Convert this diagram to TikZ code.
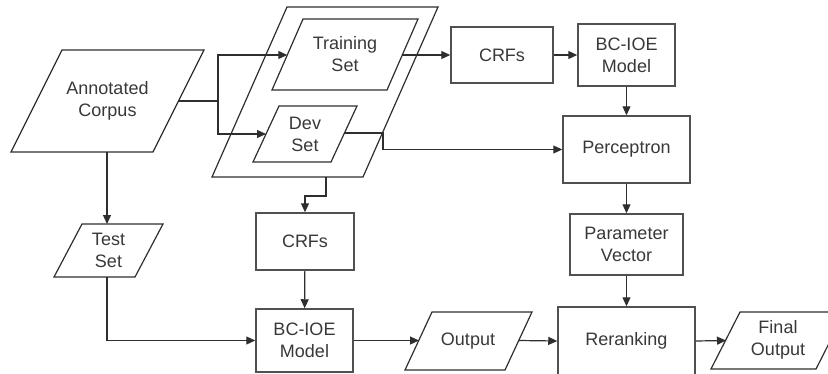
\documentclass[tikz,border=0pt]{standalone}
\usepackage{fontspec}
\setmainfont{Liberation Sans}
\usetikzlibrary{arrows.meta,calc}
\definecolor{lc}{HTML}{2E2E2E}
\definecolor{bc}{HTML}{505050}
\definecolor{tc}{HTML}{383838}
\begin{document}
\begin{tikzpicture}[x=1pt,y=-1pt,line join=miter,
  ln/.style={draw=lc,line width=1.2pt},
  arr/.style={ln,-{Triangle[length=9pt,width=8pt]}},
  pl/.style={draw=lc,line width=1.2pt},
  txt/.style={align=center,font=\fontsize{18}{22}\selectfont,text=tc,inner sep=0pt},
  boxn/.style={txt,draw=bc,line width=1.5pt,rectangle}]
\useasboundingbox (0,0) rectangle (828,373);
\clip (0,0) rectangle (828,373);
% parallelograms
\draw[pl] (62,50) -- (204,50) -- (153,152) -- (11,152) -- cycle;
\node[txt] (ac) at (107.5,101) {Annotated\\Corpus};
\coordinate (acR) at (178.5,101);
\coordinate (acB) at (107,152);
\draw[pl] (287,7) -- (438,7) -- (363,177) -- (212,177) -- cycle;
\coordinate (bigB) at (326,177);
\draw[pl] (303,19) -- (418,19) -- (387,90) -- (272,90) -- cycle;
\node[txt] (ts) at (345,54.5) {Training\\Set};
\coordinate (tsL) at (287.3,55);
\coordinate (tsR) at (402.3,55);
\draw[pl] (279,106) -- (357,106) -- (331,162) -- (253,162) -- cycle;
\node[txt] (ds) at (305,134) {Dev\\Set};
\coordinate (dsL) at (266,134);
\coordinate (dsR) at (344.5,133);
\draw[pl] (82,224) -- (163,224) -- (135,277) -- (54,277) -- cycle;
\node[txt] (test) at (108.5,250.5) {Test\\Set};
\coordinate (testT) at (107,224);
\coordinate (testB) at (107,277);
\draw[pl] (432,312) -- (532,312) -- (505,370) -- (405,370) -- cycle;
\node[txt] (out) at (468,341) {Output};
\coordinate (outL) at (419,340.5);
\coordinate (outR) at (519,340.5);
\draw[pl] (740,312) -- (845,312) -- (816,369) -- (711,369) -- cycle;
\node[txt] (fin) at (778,340) {Final\\Output};
\coordinate (finL) at (726,340.5);
% boxes
\node[boxn,minimum width=102pt,minimum height=56pt] (crfA) at (502,55) {CRFs};
\node[boxn,minimum width=97pt,minimum height=62pt] (bcA) at (626.5,55) {BC-IOE\\Model};
\node[boxn,minimum width=127pt,minimum height=67pt] (perc) at (626.5,149.5) {Perceptron};
\node[boxn,minimum width=113pt,minimum height=61pt] (pv) at (626.5,244.5) {Parameter\\Vector};
\node[boxn,minimum width=137pt,minimum height=68pt] (rr) at (626.5,341) {Reranking};
\node[boxn,minimum width=98pt,minimum height=57pt] (crfB) at (305,241.5) {CRFs};
\node[boxn,minimum width=97pt,minimum height=63pt] (bcB) at (304.5,340.5) {BC-IOE\\Model};
% connectors
\draw[ln] (acR) -- (218,101) coordinate (j1);
\draw[arr] (j1) |- (tsL);
\draw[arr] (j1) |- (dsL);
\draw[arr] (tsR) -- (crfA.west);
\draw[arr] (crfA) -- (bcA);
\draw[arr] (bcA) -- (perc);
\draw[arr] (dsR) -- ++(38.5,0) |- (perc.west);
\draw[arr] (bigB) -- ++(0,19) -| (crfB.north);
\draw[arr] (crfB) -- (bcB);
\draw[arr] (acB) -- (testT);
\draw[arr] (testB) |- (bcB.west);
\draw[arr] (bcB.east) -- (outL);
\draw[arr] (outR) -- (rr.west);
\draw[arr] (perc) -- (pv);
\draw[arr] (pv) -- (rr);
\draw[arr] (rr.east) -- (finL);
\end{tikzpicture}
\end{document}
